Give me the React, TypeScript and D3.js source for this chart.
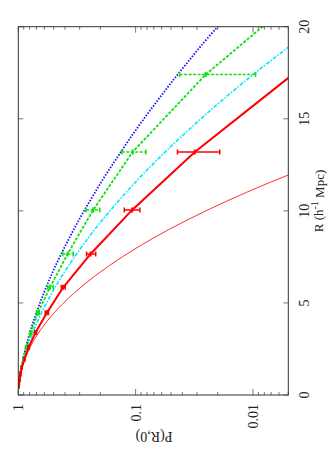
import React from 'react';
import * as d3 from 'd3';

// ---- data ----
const R_TICKS = [0, 5, 10, 15, 20];
const P_TICK_LABELS = ['1', '0.1', '0.01'];
const P_MAJOR = [1, 0.1, 0.01];

// red measured points (thick solid line with error bars)
const RED_R = [0.5, 0.66, 0.87, 1.14, 1.5, 1.97, 2.58, 3.39, 4.46, 5.85, 7.66, 10.05, 13.2, 17.4];
const RED_P = [0.991, 0.984, 0.975, 0.959, 0.933, 0.881, 0.817, 0.713, 0.571, 0.414, 0.242, 0.107, 0.0313, 0.0046];
const RED_LO = [0.993, 0.987, 0.979, 0.964, 0.94, 0.89, 0.83, 0.728, 0.59, 0.43, 0.262, 0.125, 0.044, 0.0049];
const RED_HI = [0.989, 0.981, 0.971, 0.954, 0.926, 0.872, 0.805, 0.698, 0.553, 0.398, 0.219, 0.092, 0.0192, 0.0012];

// green measured points (dashed line with error bars)
const GREEN_R = [0.5, 0.66, 0.87, 1.14, 1.5, 1.97, 2.58, 3.39, 4.46, 5.85, 7.66, 10.05, 13.2, 17.4, 22.8];
const GREEN_P = [0.99, 0.984, 0.975, 0.959, 0.938, 0.906, 0.855, 0.783, 0.681, 0.537, 0.38, 0.23, 0.106, 0.0253, 0.0025];
const GREEN_LO = [0.992, 0.987, 0.979, 0.964, 0.945, 0.915, 0.868, 0.8, 0.7, 0.562, 0.419, 0.265, 0.1315, 0.0422, 0.006];
const GREEN_HI = [0.988, 0.981, 0.971, 0.954, 0.931, 0.897, 0.842, 0.766, 0.662, 0.504, 0.34, 0.202, 0.0819, 0.0095, 0.0008];

// smooth model curves
const CURVE_R = [0.4, 1, 2, 3, 4, 5, 6, 7, 8, 9, 10, 11, 12, 13, 14, 15, 16, 17, 18, 19, 20];
const BLUE_P = [0.992, 0.968, 0.906, 0.829, 0.743, 0.653, 0.566, 0.483, 0.405, 0.336, 0.275, 0.222, 0.178, 0.14, 0.11, 0.0851, 0.0649, 0.0492, 0.0368, 0.0274, 0.02];
const CYAN_P = [0.9925, 0.965, 0.89, 0.793, 0.685, 0.575, 0.47, 0.375, 0.292, 0.2225, 0.1656, 0.1207, 0.0862, 0.0603, 0.0413, 0.0278, 0.01837, 0.01191, 0.00757, 0.00473, 0.0029];
const THIN_R = [0.4, 1, 2, 3, 4, 5, 6, 7, 8, 9, 10, 11, 12, 13];
const THIN_P = [0.995, 0.968, 0.873, 0.732, 0.57, 0.411, 0.275, 0.17, 0.0975, 0.0516, 0.0252, 0.0114, 0.00477, 0.00184];

const W = 328;
const H = 469;
const L = 18.3, RIGHT = 288.3, T = 26.7, B = 395;
const FONT = '"Liberation Serif", "Times New Roman", serif';

export default function App() {
  const x = d3.scaleLog().domain([1, 0.005]).range([L, RIGHT]);
  const y = d3.scaleLinear().domain([0, 20]).range([B, T]);
  const pMin = 0.005;

  const mk = (rs: number[], ps: number[], curve: any) =>
    d3.line<number>()
      .x((_, i) => x(ps[i]))
      .y((r) => y(r))
      .curve(curve)(rs) || '';

  const bluePath = mk(CURVE_R, BLUE_P, d3.curveCatmullRom);
  const cyanPath = mk(CURVE_R, CYAN_P, d3.curveCatmullRom);
  const thinPath = mk(THIN_R, THIN_P, d3.curveCatmullRom);
  const redPath = mk(RED_R, RED_P, d3.curveLinear);
  const greenPath = mk(GREEN_R, GREEN_P, d3.curveLinear);

  const pTicks = x.ticks();
  const isMajor = (v: number) => Math.abs(Math.log10(v) - Math.round(Math.log10(v))) < 1e-6;

  const errBars = (rs: number[], ps: number[], lo: number[], hi: number[], color: string, dash?: string) =>
    rs.map((r, i) => {
      if (ps[i] < pMin || r > 20) return null; // point outside plotted range
      const yy = y(r);
      const x1 = x(lo[i]);
      const x2 = x(hi[i]);
      const xc = x(ps[i]);
      return (
        <g key={i} stroke={color} strokeWidth={1.5} fill="none">
          <line x1={x1} x2={x2} y1={yy} y2={yy} strokeDasharray={dash} />
          <line x1={x1} x2={x1} y1={yy - 2.5} y2={yy + 2.5} />
          <line x1={x2} x2={x2} y1={yy - 2.5} y2={yy + 2.5} />
          <line x1={xc} x2={xc} y1={yy - 2.5} y2={yy + 2.5} strokeWidth={2} />
        </g>
      );
    });

  return (
    <svg width={W} height={H} style={{ position: 'absolute', left: 0, top: 0, background: '#fff' }}>
      <defs>
        <clipPath id="plotclip">
          <rect x={L} y={T} width={RIGHT - L} height={B - T} />
        </clipPath>
      </defs>
      <rect x={0} y={0} width={W} height={H} fill="#fff" />

      {/* ticks on log axis (bottom and top) */}
      {pTicks.map((v, i) => {
        const len = isMajor(v) ? 6 : 3;
        const xx = x(v);
        return (
          <g key={'pt' + i} stroke="#777" strokeWidth={1}>
            <line x1={xx} x2={xx} y1={B} y2={B - len} />
            <line x1={xx} x2={xx} y1={T} y2={T + len} />
          </g>
        );
      })}
      {/* ticks on R axis (left and right) */}
      {R_TICKS.map((r, i) => (
        <g key={'rt' + i} stroke="#777" strokeWidth={1}>
          <line x1={L} x2={L + 5} y1={y(r)} y2={y(r)} />
          <line x1={RIGHT} x2={RIGHT - 5} y1={y(r)} y2={y(r)} />
        </g>
      ))}

      <g clipPath="url(#plotclip)">
        <path d={thinPath} fill="none" stroke="#ff3030" strokeWidth={1} />
        <path d={cyanPath} fill="none" stroke="#00e8ff" strokeWidth={1.6} strokeDasharray="4,1.5,1.5,1.5" />
        <path d={bluePath} fill="none" stroke="#1010ff" strokeWidth={1.8} strokeDasharray="1.5,1.5" />
        <path d={greenPath} fill="none" stroke="#10e010" strokeWidth={1.8} strokeDasharray="3,1.5" />
        {errBars(GREEN_R, GREEN_P, GREEN_LO, GREEN_HI, '#10e010', '3,1.5')}
        <path d={redPath} fill="none" stroke="#ff0000" strokeWidth={2} />
        {errBars(RED_R, RED_P, RED_LO, RED_HI, '#ff0000')}
      </g>

      <rect x={L} y={T} width={RIGHT - L} height={B - T} fill="none" stroke="#333" strokeWidth={1} />

      {/* log axis tick labels */}
      {P_MAJOR.map((v, i) => (
        <text key={'pl' + i} transform={`translate(${x(v)},${404}) rotate(-90)`} textAnchor="end" dy="0.35em"
          fontFamily={FONT} fontSize={14} fill="#222">{P_TICK_LABELS[i]}</text>
      ))}
      {/* R axis tick labels */}
      {R_TICKS.map((r, i) => (
        <text key={'rl' + i} transform={`translate(${304},${y(r)}) rotate(-90)`} textAnchor="middle" dy="0.35em"
          fontFamily={FONT} fontSize={14} fill="#222">{String(r)}</text>
      ))}
      {/* axis titles */}
      <text transform={`translate(${318},${201}) rotate(-90)`} textAnchor="middle" dy="0.35em"
        fontFamily={FONT} fontSize={13} fill="#222">
        R (h<tspan dy="-0.45em" fontSize={10}>-1</tspan><tspan dy="0.45em"> Mpc)</tspan>
      </text>
      <text transform={`translate(${154},${437}) rotate(180)`} textAnchor="middle" dy="0.35em"
        fontFamily={FONT} fontSize={14} fill="#222">P(R,0)</text>
    </svg>
  );
}
